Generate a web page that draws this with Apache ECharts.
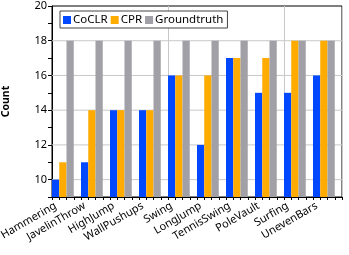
<!DOCTYPE html>
<html><head><meta charset="utf-8">
<script src="https://cdn.jsdelivr.net/npm/echarts@6/dist/echarts.min.js"></script>
<style>html,body{margin:0;padding:0;background:#fff}#c{width:349px;height:255px}</style>
</head><body><div id="c"></div>
<script>
const categories = ['Hammering','JavelinThrow','HighJump','WallPushups','Swing','LongJump','TennisSwing','PoleVault','Surfing','UnevenBars'];
const coclr = [10, 11, 14, 14, 16, 12, 17, 15, 15, 16];
const cpr = [11, 14, 14, 14, 16, 16, 17, 17, 18, 18];
const groundtruth = [18, 18, 18, 18, 18, 18, 18, 18, 18, 18];
const yTicks = [10, 12, 14, 16, 18, 20];
const Y_MIN = 9, Y_MAX = 20;

const FONT = 'Noto Sans';
const GRID_COLOR = '#c8c8c8';
// tick/label axis: 4 slots per category (3 bars + gap)
const slotLabels = [];
categories.forEach(c => { slotLabels.push(c, '', '', ''); });

// horizontal grid lines at the even values, drawn through a hidden 0..1 x axis
const gridSeries = yTicks.slice(0, -1).map(v => ({
  name: 'grid' + v, type: 'line', xAxisIndex: 2, yAxisIndex: 0,
  data: [[0, v], [1, v]], symbol: 'none', silent: true, z: 1,
  lineStyle: {color: GRID_COLOR, width: 1, type: 'solid'},
  emphasis: {disabled: true}
}));

const chart = echarts.init(document.getElementById('c'), null, {renderer: 'canvas'});
chart.setOption({
  animation: false,
  grid: {left: 52, right: 7, top: 6, bottom: 58, outerBoundsMode: 'none', containLabel: false,
         show: true, borderColor: '#000', borderWidth: 1, backgroundColor: 'transparent'},
  legend: {
    data: ['CoCLR', 'CPR', 'Groundtruth'],
    left: 60, top: 11, orient: 'horizontal',
    padding: [3, 4, 2, 3],
    itemWidth: 8, itemHeight: 8, itemGap: 3,
    borderColor: '#444', borderWidth: 1, backgroundColor: '#fff',
    icon: 'rect',
    textStyle: {fontFamily: FONT, fontSize: 11.5, color: '#000', padding: [0, 0, 0, -3]}
  },
  xAxis: [
    {type: 'category', data: categories, boundaryGap: true,
     axisLine: {show: true, lineStyle: {color: '#000', width: 1}},
     axisTick: {show: false}, axisLabel: {show: false},
     splitLine: {show: true, lineStyle: {color: GRID_COLOR, width: 1}}},
    {type: 'category', data: slotLabels, boundaryGap: true, position: 'bottom',
     axisLine: {show: false},
     axisTick: {show: true, length: 3, interval: 0, lineStyle: {color: '#000'}},
     axisLabel: {show: true, interval: 0, rotate: 30, margin: 8, fontFamily: FONT, fontSize: 11, color: '#000'},
     splitLine: {show: false}},
    {type: 'value', min: 0, max: 1, show: false}
  ],
  yAxis: [
    {type: 'value', min: Y_MIN, max: Y_MAX, interval: 1, position: 'left',
     name: 'Count', nameLocation: 'middle', nameGap: 40,
     nameTextStyle: {fontFamily: FONT, fontSize: 10.5, fontWeight: 'bold', color: '#000'},
     axisLine: {show: true, lineStyle: {color: '#000'}},
     axisTick: {show: true, length: 4, lineStyle: {color: '#000'}},
     axisLabel: {fontFamily: FONT, fontSize: 11, color: '#000', margin: 5,
       formatter: v => (yTicks.indexOf(v) >= 0 ? String(v) : '')},
     splitLine: {show: false}}
  ],
  series: [
    ...gridSeries,
    {name: 'CoCLR', type: 'bar', xAxisIndex: 0, yAxisIndex: 0, data: coclr, barGap: '0%', barCategoryGap: '0%', z: 3, itemStyle: {color: '#0048ff'}},
    {name: 'CPR', type: 'bar', xAxisIndex: 0, yAxisIndex: 0, data: cpr, z: 3, itemStyle: {color: '#ffab00'}},
    {name: 'Groundtruth', type: 'bar', xAxisIndex: 0, yAxisIndex: 0, data: groundtruth, z: 3, itemStyle: {color: '#a0a0a6'}},
    {name: 'spacer', type: 'bar', xAxisIndex: 0, yAxisIndex: 0, data: categories.map(() => '-'), z: 3, itemStyle: {color: 'rgba(0,0,0,0)'}}
  ]
});
</script></body></html>
